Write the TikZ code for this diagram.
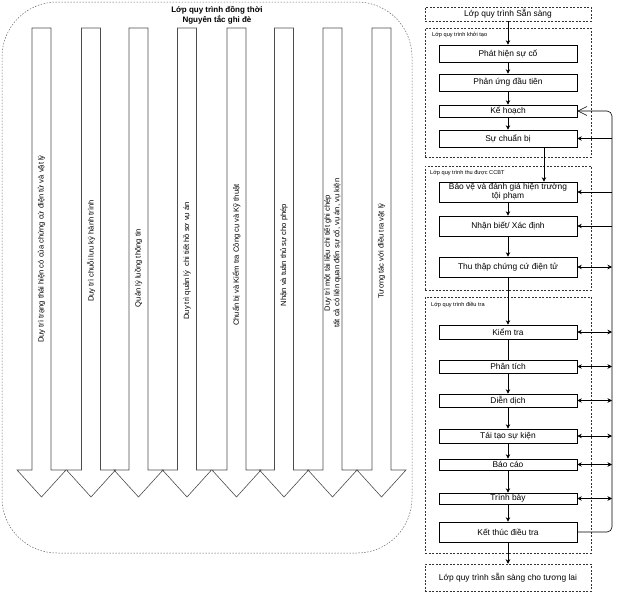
\documentclass[tikz,border=0pt]{standalone}
\usepackage{fontspec}
\setmainfont{Liberation Sans}
\usetikzlibrary{arrows.meta}
\begin{document}
\begin{tikzpicture}[x=1pt,y=-1pt,
  box/.style={draw=black, line width=0.6pt, minimum width=138pt, inner sep=0pt, align=center, font=\fontsize{8.4}{9.4}\selectfont},
  layerbox/.style={draw=black!80, line width=0.5pt, dash pattern=on 2pt off 1.5pt, minimum width=166pt, inner sep=0pt, align=center, font=\fontsize{8.4}{9.4}\selectfont},
  layerlabel/.style={anchor=west, inner sep=0pt, font=\fontsize{5.6}{6.5}\selectfont},
  arr/.style={line width=0.6pt, -{Stealth[length=4.5pt,width=4.5pt]}},
  darr/.style={line width=0.6pt, {Stealth[length=4.5pt,width=4.5pt]}-{Stealth[length=4.5pt,width=4.5pt]}},
  plainline/.style={line width=0.6pt},
  fatline/.style={draw=black!70, line width=0.6pt, line join=miter},
  fattext/.style={inner sep=0pt, align=center, font=\fontsize{7.6}{9.6}\selectfont}
]
\useasboundingbox (0,0) rectangle (622,592);

% concurrent layer container
\node[draw=black!60, line width=0.5pt, dash pattern=on 1.5pt off 1.5pt, rounded corners=55pt,
      minimum width=410pt, minimum height=551pt, inner sep=0pt] (conc) at (207,277.5) {};
\node[font=\bfseries\fontsize{8}{10}\selectfont, align=center, inner sep=0pt] (title) at (217,15)
  {Lớp quy trình đồng thời\\Nguyên tắc ghi đè};

\newcommand\fatarrow[4]{%
  \draw[fatline] (#1-9.5,28) -- (#1+9.5,28) -- (#1+9.5,470) -- (#1+24.5,470) -- (#1,497)
     -- (#1-24.5,470) -- (#1-9.5,470) -- cycle;
  \node[fattext, rotate=90] (#4) at (#1,#2) {#3};}

\fatarrow{41.5}{249}{Duy trì trạng thái hiện có của chứng cứ điện tử và vật lý}{t1}
\fatarrow{91}{251}{Duy trì chuỗi lưu ký hành trình}{t2}
\fatarrow{138.5}{268}{Quản lý luồng thông tin}{t3}
\fatarrow{187}{261}{Duy trì quản lý \ chi tiết hồ sơ vụ án}{t4}
\fatarrow{236.5}{255}{Chuẩn bị và Kiểm tra Công cụ và Kỹ thuật}{t5}
\fatarrow{284}{255}{Nhận và tuân thủ sự cho phép}{t6}
\fatarrow{332.5}{253}{Duy trì một tài liệu chi tiết ghi chép\\tất cả có liên quan đến sự cố, vụ án, vụ kiện}{t7}
\fatarrow{381.5}{251}{Tương tác với điều tra vật lý}{t8}

% right side layers
\node[layerbox, minimum height=14pt] (ready) at (508,14) {Lớp quy trình Sẵn sàng};
\node[layerbox, minimum height=129pt] (init) at (508,92.5) {};
\node[layerlabel] (initlbl) at (432,35) {Lớp quy trình khởi tạo};
\node[layerbox, minimum height=124pt] (acq) at (508,228) {};
\node[layerlabel] (acqlbl) at (430,173) {Lớp quy trình thu được CCBT};
\node[layerbox, minimum height=256pt] (inv) at (508,425) {};
\node[layerlabel] (invlbl) at (431,305) {Lớp quy trình điều tra};
\node[layerbox, minimum height=27pt] (future) at (508,577.5) {Lớp quy trình sẵn sàng cho tương lai};

% process boxes
\node[box, minimum height=17pt] (detect) at (508,53.5) {Phát hiện sự cố};
\node[box, minimum height=17pt] (first) at (508,82.5) {Phản ứng đầu tiên};
\node[box, minimum height=12pt] (plan) at (508,111) {Kế hoạch};
\node[box, minimum height=17pt] (prep) at (508,138.5) {Sự chuẩn bị};
\node[box, minimum height=20pt] (protect) at (508,192) {Bảo vệ và đánh giá hiện trường\\tội phạm};
\node[box, minimum height=20pt] (ident) at (508,226) {Nhận biết/ Xác định};
\node[box, minimum height=20pt] (collect) at (508,267) {Thu thập chứng cứ điện tử};
\node[box, minimum height=14pt] (exam) at (508,332) {Kiểm tra};
\node[box, minimum height=13pt] (anal) at (508,366.5) {Phân tích};
\node[box, minimum height=13pt] (interp) at (508,400.5) {Diễn dịch};
\node[box, minimum height=14pt] (recon) at (508,436) {Tái tạo sự kiện};
\node[box, minimum height=11pt] (report) at (508,464.5) {Báo cáo};
\node[box, minimum height=11pt] (present) at (508,498.5) {Trình bày};
\node[box, minimum height=20pt] (close) at (508,532) {Kết thúc điều tra};

\coordinate (rail) at (612,0);
\coordinate (side) at (544,0);

% main flow
\draw[arr] (ready) -- (detect);
\draw[arr] (detect) -- (first);
\draw[arr] (first) -- (plan);
\draw[arr] (plan) -- (prep);
\draw[arr] (prep.south -| side) -- (protect.north -| side);
\draw[arr] (protect) -- (ident);
\draw[arr] (ident) -- (collect);
\draw[arr] (collect) -- (exam);
\draw[plainline] (exam) -- (anal);
\draw[arr] (anal) -- (interp);
\draw[arr] (interp) -- (recon);
\draw[arr] (recon) -- (report);
\draw[arr] (report) -- (present);
\draw[arr] (present) -- (close);
\draw[arr] (close) -- (future);

% feedback rail
\draw[line width=0.6pt, rounded corners=5pt, -{Straight Barb[length=9pt,width=9pt]}]
  (close.east) -- (close.east -| rail) -- (plan.east -| rail) -- (plan.east);

\draw[arr] (prep.east -| rail) -- (prep.east);
\draw[arr] (protect.east -| rail) -- (protect.east);
\draw[arr] (ident.east -| rail) -- (ident.east);
\draw[darr] (collect.east) -- (collect.east -| rail);
\draw[darr] (exam.east) -- (exam.east -| rail);
\draw[darr] (anal.east) -- (anal.east -| rail);
\draw[darr] (interp.east) -- (interp.east -| rail);
\draw[darr] (recon.east) -- (recon.east -| rail);
\draw[darr] (report.east) -- (report.east -| rail);
\draw[darr] (present.east) -- (present.east -| rail);
\end{tikzpicture}
\end{document}
